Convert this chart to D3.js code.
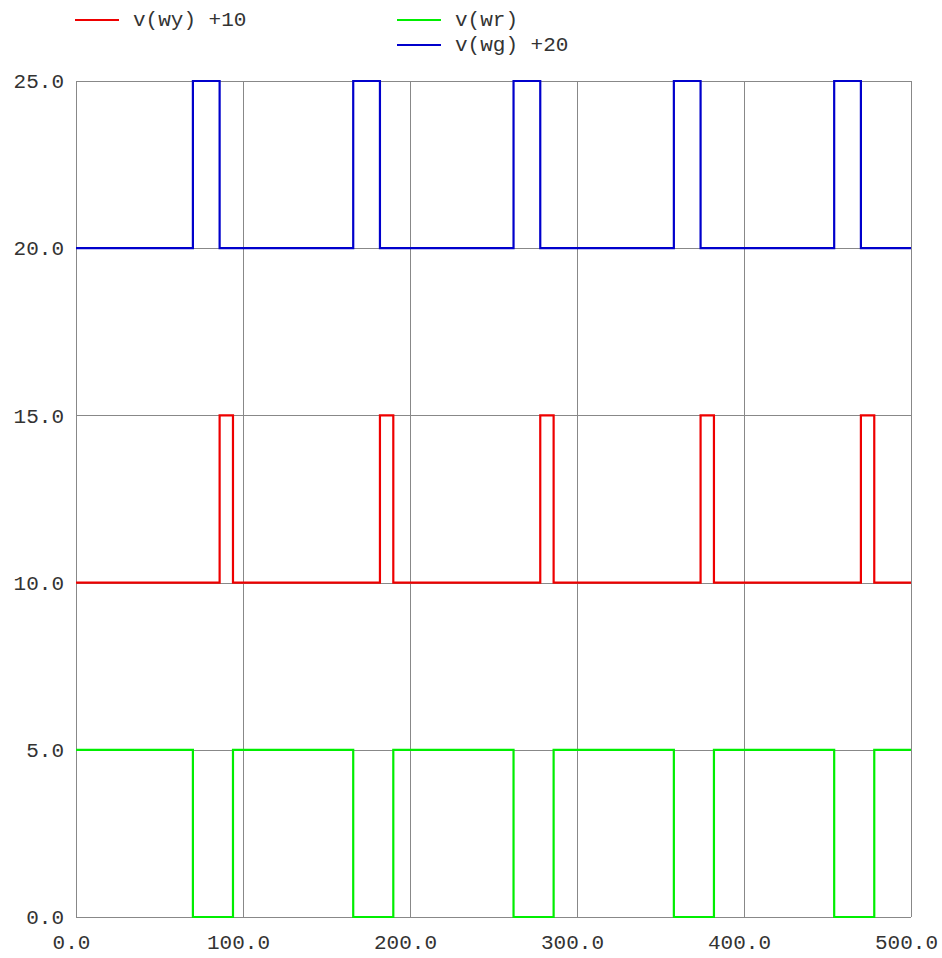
<!DOCTYPE html>
<html>
<head>
<meta charset="utf-8">
<script src="https://cdn.jsdelivr.net/npm/d3@7"></script>
<style>
  html, body { margin: 0; padding: 0; background: #fff; }
  svg text { font-family: "Liberation Mono", "DejaVu Sans Mono", monospace; fill: #333; }
</style>
</head>
<body>
<svg id="chart" width="942" height="958"></svg>
<script>
// ---- data ----
const xTicks = [0, 100, 200, 300, 400, 500];
const yTicks = [0, 5, 10, 15, 20, 25];

// v(wr): step data (value holds from time until next time)
const wrTimes = [0, 70, 94, 166, 190, 262, 286, 358, 382, 454, 478, 500];
const wrVals  = [5, 0, 5, 0, 5, 0, 5, 0, 5, 0, 5, 5];
// v(wy), drawn with +10 offset
const wyTimes = [0, 86, 94, 182, 190, 278, 286, 374, 382, 470, 478, 500];
const wyVals  = [0, 5, 0, 5, 0, 5, 0, 5, 0, 5, 0, 0];
const wyOffset = 10;
// v(wg), drawn with +20 offset
const wgTimes = [0, 70, 86, 166, 182, 262, 278, 358, 374, 454, 470, 500];
const wgVals  = [0, 5, 0, 5, 0, 5, 0, 5, 0, 5, 0, 0];
const wgOffset = 20;

const seriesNames  = ["v(wy) +10", "v(wr)", "v(wg) +20"];
const seriesColors = ["#ee0000", "#00ee00", "#0000cc"];

// ---- layout ----
(function () {
const svg = d3.select("#chart");
const pLeft = 76, pRight = 911, pTop = 81, pBottom = 917;
const x = d3.scaleLinear().domain([0, 500]).range([pLeft, pRight]);
const y = d3.scaleLinear().domain([0, 25]).range([pBottom, pTop]);
const grid = "#888";

// grid lines
svg.append("g").selectAll("line").data(yTicks).join("line")
  .attr("x1", pLeft).attr("x2", pRight)
  .attr("y1", d => Math.round(y(d)) + 0.5).attr("y2", d => Math.round(y(d)) + 0.5)
  .attr("stroke", grid).attr("stroke-width", 1);
svg.append("g").selectAll("line").data(xTicks).join("line")
  .attr("y1", pTop).attr("y2", pBottom)
  .attr("x1", d => Math.round(x(d)) + 0.5).attr("x2", d => Math.round(x(d)) + 0.5)
  .attr("stroke", grid).attr("stroke-width", 1);

// axes labels via d3 axes
const yAxis = svg.append("g").attr("transform", `translate(${pLeft},0)`)
  .call(d3.axisLeft(y).tickValues(yTicks).tickFormat(d3.format(".1f")).tickSize(0).tickPadding(12));
yAxis.select(".domain").remove();
yAxis.selectAll("text").style("font-size", "21px").attr("fill", "#333")
  .style("font-family", '"Liberation Mono", monospace');

const xAxis = svg.append("g").attr("transform", `translate(-5,${pBottom})`)
  .call(d3.axisBottom(x).tickValues(xTicks).tickFormat(d3.format(".1f")).tickSize(0).tickPadding(17));
xAxis.select(".domain").remove();
xAxis.selectAll("text").style("font-size", "21px").attr("fill", "#333")
  .style("font-family", '"Liberation Mono", monospace');

// series
const line = d3.line().x(d => x(d[0])).y(d => y(d[1])).curve(d3.curveStepAfter);
const series = [
  wyTimes.map((t, i) => [t, wyVals[i] + wyOffset]),
  wrTimes.map((t, i) => [t, wrVals[i]]),
  wgTimes.map((t, i) => [t, wgVals[i] + wgOffset])
];
series.forEach((s, i) => {
  svg.append("path").datum(s).attr("d", line)
    .attr("fill", "none").attr("stroke", seriesColors[i]).attr("stroke-width", 2.2);
});

// legend
const legendPos = [[75, 20], [397, 20], [397, 45]];
seriesNames.forEach((name, i) => {
  const [lx, ly] = legendPos[i];
  svg.append("line").attr("x1", lx).attr("x2", lx + 44).attr("y1", ly).attr("y2", ly)
    .attr("stroke", seriesColors[i]).attr("stroke-width", 2.2);
  svg.append("text").attr("x", lx + 58).attr("y", ly).attr("dominant-baseline", "central")
    .style("font-size", "21px").style("white-space", "pre").text(name);
});
})();
</script>
</body>
</html>
